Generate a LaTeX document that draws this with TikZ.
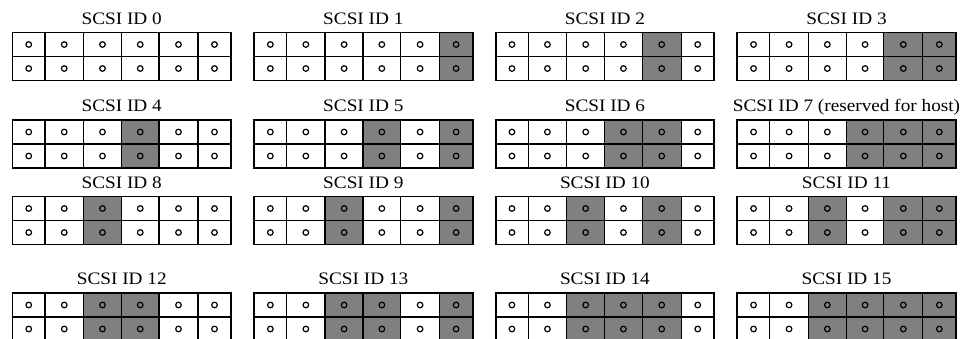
\documentclass[tikz,border=0pt]{standalone}
\usepackage{fontspec}
\setmainfont{Liberation Serif}[FakeStretch=1.1]
\definecolor{cellgray}{HTML}{808080}
\tikzset{
  idtitle/.style={anchor=base, inner sep=0pt, font=\fontsize{17.5}{20}\selectfont},
  onfill/.style={fill=cellgray},
  innerline/.style={line width=1.3pt, black},
  outerline/.style={line width=1.8pt, black},
  pin/.style={line width=1.2pt, black},
}
\begin{document}
\begin{tikzpicture}[x=1pt,y=-1pt]
\useasboundingbox (0,0) rectangle (974,338);
\clip (0,0) rectangle (974,338);
\foreach \id in {0,...,15} {
  \pgfmathtruncatemacro\col{mod(\id,4)}
  \pgfmathtruncatemacro\row{div(\id,4)}
  \pgfmathsetmacro\xo{12.5+241.6*\col}
  \pgfmathsetmacro\yo{{32.5,120,196.5,293}[\row]}
  \pgfmathsetmacro\yb{\yo+48}
  \pgfmathsetmacro\ym{\yo+24}
  \pgfmathsetmacro\xc{\xo+109.25}
  \pgfmathsetmacro\yt{\yo-8.5}
  \coordinate (b\id) at (\xo,\yo);
  \node[idtitle] (t\id) at (\xc,\yt) {SCSI ID \id\ifnum\id=7\ (reserved for host)\fi};
  % shaded columns
  \foreach \b/\c in {8/3,4/4,2/5,1/6} {
    \pgfmathtruncatemacro\on{mod(div(\id,\b),2)}
    \ifnum\on=1
      \pgfmathsetmacro\xa{\xo+{0,32.5,71,109,146.5,185.5,218.5}[\c-1]}
      \pgfmathsetmacro\xe{\xo+{0,32.5,71,109,146.5,185.5,218.5}[\c]}
      \fill[onfill] (\xa,\yo) rectangle (\xe,\yb);
    \fi
  }
  % inner lines
  \draw[innerline] (\xo,\ym) -- (\xo+218.5,\ym);
  \foreach \c in {1,...,5} {
    \pgfmathsetmacro\xa{\xo+{0,32.5,71,109,146.5,185.5,218.5}[\c]}
    \draw[innerline] (\xa,\yo) -- (\xa,\yb);
  }
  % pins
  \foreach \c in {0,...,5} {
    \pgfmathsetmacro\xp{\xo+({0,32.5,71,109,146.5,185.5,218.5}[\c]+{0,32.5,71,109,146.5,185.5,218.5}[\c+1])/2}
    \draw[pin] (\xp,\yo+12) circle[radius=2.8pt];
    \draw[pin] (\xp,\yo+36) circle[radius=2.8pt];
  }
  \draw[outerline] (\xo,\yo) rectangle (\xo+218.5,\yb);
}
\end{tikzpicture}
\end{document}
